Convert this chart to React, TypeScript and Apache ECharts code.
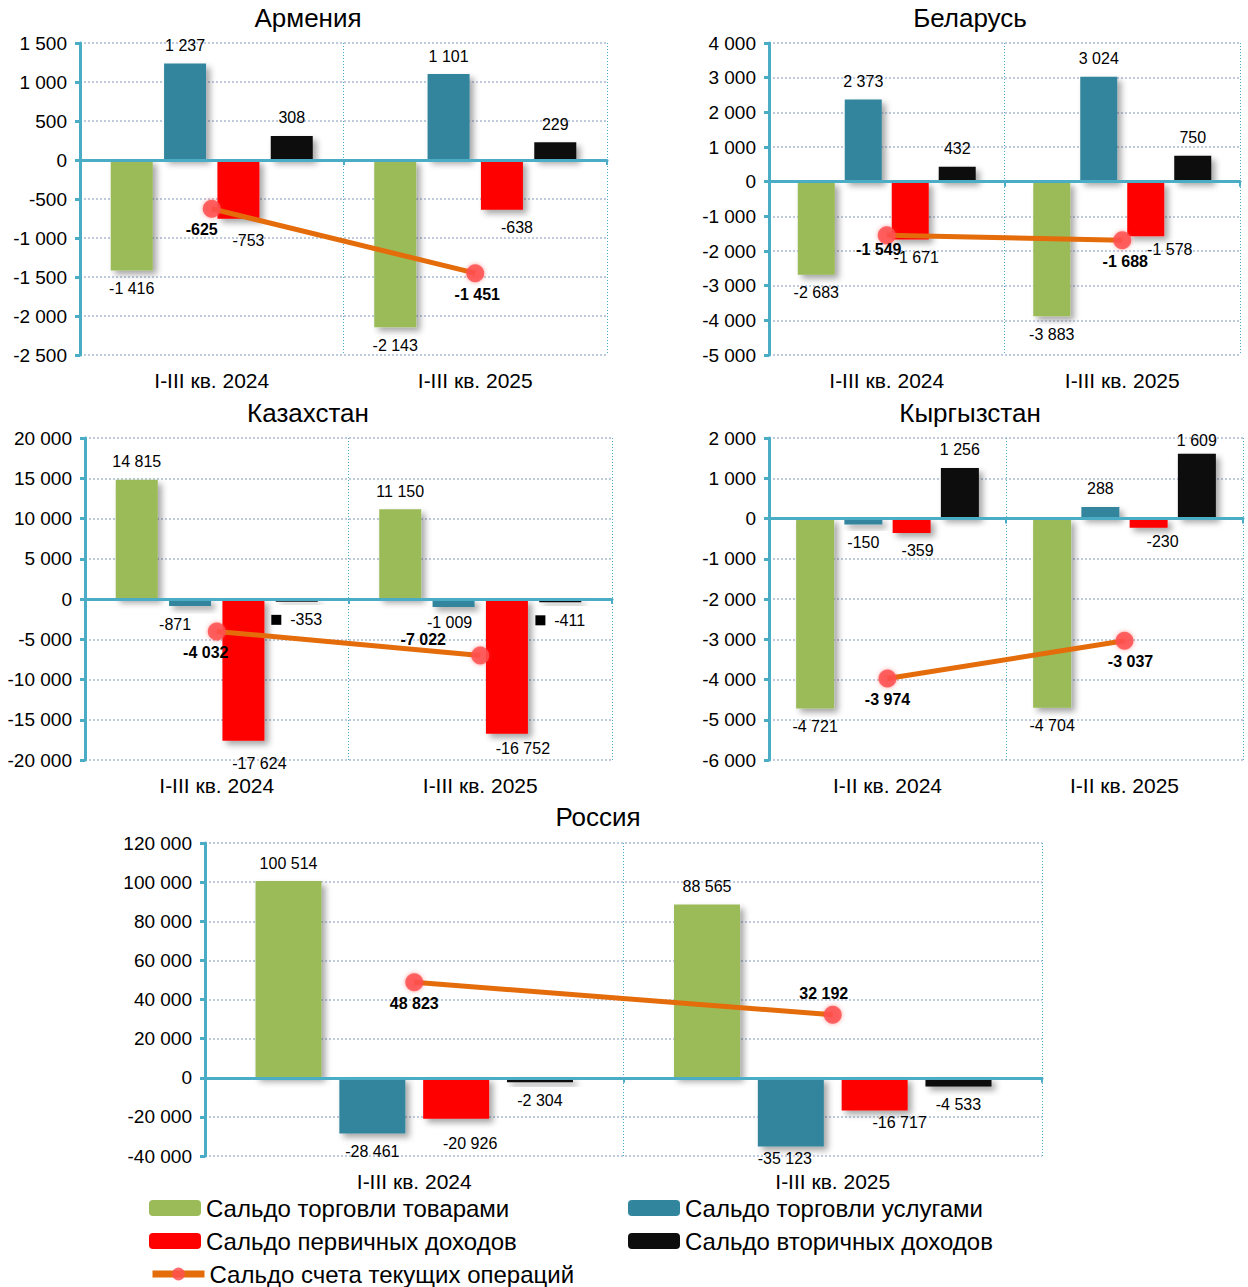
import React, { useEffect, useRef } from "react";
import * as echarts from "echarts";

// ---------- DATA ----------
const categoriesQ3 = ["I-III кв. 2024", "I-III кв. 2025"];
const categoriesQ2 = ["I-II кв. 2024", "I-II кв. 2025"];

const seriesNames = [
  "Сальдо торговли товарами",
  "Сальдо торговли услугами",
  "Сальдо первичных доходов",
  "Сальдо вторичных доходов",
  "Сальдо счета текущих операций",
];

const armeniaGoods = [-1416, -2143];
const armeniaServices = [1237, 1101];
const armeniaPrimary = [-753, -638];
const armeniaSecondary = [308, 229];
const armeniaCurrent = [-625, -1451];

const belarusGoods = [-2683, -3883];
const belarusServices = [2373, 3024];
const belarusPrimary = [-1671, -1578];
const belarusSecondary = [432, 750];
const belarusCurrent = [-1549, -1688];

const kazakhstanGoods = [14815, 11150];
const kazakhstanServices = [-871, -1009];
const kazakhstanPrimary = [-17624, -16752];
const kazakhstanSecondary = [-353, -411];
const kazakhstanCurrent = [-4032, -7022];

const kyrgyzstanGoods = [-4721, -4704];
const kyrgyzstanServices = [-150, 288];
const kyrgyzstanPrimary = [-359, -230];
const kyrgyzstanSecondary = [1256, 1609];
const kyrgyzstanCurrent = [-3974, -3037];

const russiaGoods = [100514, 88565];
const russiaServices = [-28461, -35123];
const russiaPrimary = [-20926, -16717];
const russiaSecondary = [-2304, -4533];
const russiaCurrent = [48823, 32192];

const armeniaAxis = { min: -2500, max: 1500, interval: 500 };
const belarusAxis = { min: -5000, max: 4000, interval: 1000 };
const kazakhstanAxis = { min: -20000, max: 20000, interval: 5000 };
const kyrgyzstanAxis = { min: -6000, max: 2000, interval: 1000 };
const russiaAxis = { min: -40000, max: 120000, interval: 20000 };

// ---------- STYLE / LAYOUT ----------
const COLORS = ["#9BBB59", "#31859C", "#FF0000", "#0D0D0D"];
const LINE_COLOR = "#E46C0A";
const SYMBOL_COLOR = "rgba(255,80,80,0.85)";
const AXIS_COLOR = "#4BACC6";
const FONT = "'Liberation Sans', Arial, sans-serif";

const countries = [
  {
    key: "am", title: "Армения", tx: 308, ty: 18,
    left: 80, top: 43, width: 527, height: 312, barWidth: 42,
    cats: categoriesQ3, axis: armeniaAxis,
    values: [armeniaGoods, armeniaServices, armeniaPrimary, armeniaSecondary, armeniaCurrent],
  },
  {
    key: "by", title: "Беларусь", tx: 970, ty: 18,
    left: 769, top: 43, width: 471, height: 312, barWidth: 37,
    cats: categoriesQ3, axis: belarusAxis,
    values: [belarusGoods, belarusServices, belarusPrimary, belarusSecondary, belarusCurrent],
  },
  {
    key: "kz", title: "Казахстан", tx: 308, ty: 413,
    left: 85, top: 438, width: 527, height: 322, barWidth: 42,
    cats: categoriesQ3, axis: kazakhstanAxis,
    values: [kazakhstanGoods, kazakhstanServices, kazakhstanPrimary, kazakhstanSecondary, kazakhstanCurrent],
  },
  {
    key: "kg", title: "Кыргызстан", tx: 970, ty: 413,
    left: 769, top: 438, width: 474, height: 322, barWidth: 38,
    cats: categoriesQ2, axis: kyrgyzstanAxis,
    values: [kyrgyzstanGoods, kyrgyzstanServices, kyrgyzstanPrimary, kyrgyzstanSecondary, kyrgyzstanCurrent],
  },
  {
    key: "ru", title: "Россия", tx: 598, ty: 817,
    left: 205, top: 843, width: 837, height: 313, barWidth: 66,
    cats: categoriesQ3, axis: russiaAxis,
    values: [russiaGoods, russiaServices, russiaPrimary, russiaSecondary, russiaCurrent],
  },
];

// label offsets [dx, dy] per country / series / point
const labelOffsets: Record<string, Record<number, number[][]>> = {
  am: { 2: [[10, 4], [15, 0]], 4: [[-10, 0], [2, 0]] },
  by: { 2: [[6, 0], [24, -5]], 4: [[-8, -7], [3, 0]] },
  kz: { 1: [[-15, 0], [-4, -3]], 2: [[16, 5], [16, -3]], 4: [[-11, 0], [-57, -37]] },
  kg: { 2: [[6, 0], [14, -4]], 3: [[0, 0], [0, 5]], 4: [[0, 0], [6, 0]] },
  ru: { 1: [[0, 0], [-6, -6]], 2: [[14, 7], [25, -6]], 4: [[0, 0], [-9, 0]] },
};
const linePositions: Record<string, string[]> = {
  ru: ["bottom", "top"],
};
const squareKeyLabels: Record<string, number> = { kz: 3 };

// legend item placement: [seriesIndex, left, top]
const legendPlacement = [
  [0, 149, 1196],
  [1, 628, 1196],
  [2, 149, 1229],
  [3, 628, 1229],
  [4, 149, 1262],
];

const fmt = (v: number) =>
  (v < 0 ? "-" : "") + String(Math.abs(v)).replace(/\B(?=(\d{3})+(?!\d))/g, " ");

function buildOption() {
  const grid: any[] = [];
  const xAxis: any[] = [];
  const yAxis: any[] = [];
  const series: any[] = [];
  const graphic: any[] = [];

  countries.forEach((c, i) => {
    grid.push({ left: c.left, top: c.top, width: c.width, height: c.height, containLabel: false, outerBoundsMode: "none" });
    graphic.push({
      type: "text", x: c.tx, y: c.ty, z: 10,
      style: { text: c.title, fontSize: 26, fontFamily: FONT, fill: "#000", align: "center", verticalAlign: "middle" },
    });
    // label axis at bottom
    xAxis.push({
      type: "category", gridIndex: i, data: c.cats, position: "bottom",
      axisLine: { show: false, onZero: false },
      axisTick: { show: false },
      axisLabel: { fontSize: 21, color: "#000", fontFamily: FONT, margin: 15 },
      splitLine: { show: true, lineStyle: { color: AXIS_COLOR, type: [1, 2], width: 1 } },
    });
    // zero line axis
    xAxis.push({
      type: "category", gridIndex: i, data: c.cats, position: "bottom", z: 4,
      axisLine: { show: true, onZero: true, lineStyle: { color: AXIS_COLOR, width: 3 } },
      axisTick: { show: true, length: 5, lineStyle: { color: AXIS_COLOR, width: 2 } },
      axisLabel: { show: false },
      splitLine: { show: false },
    });
    yAxis.push({
      type: "value", gridIndex: i, min: c.axis.min, max: c.axis.max, interval: c.axis.interval,
      axisLine: { show: true, lineStyle: { color: AXIS_COLOR, width: 3 } },
      axisTick: { show: true, length: 5, lineStyle: { color: AXIS_COLOR, width: 3 } },
      axisLabel: { formatter: (v: number) => fmt(v), fontSize: 19, color: "#000", fontFamily: FONT, margin: 13 },
      splitLine: { show: true, lineStyle: { color: "#ABBBD2", type: [2, 2], width: 1.5 } },
    });

    const offs = labelOffsets[c.key] || {};
    for (let s = 0; s < 4; s++) {
      const isSq = squareKeyLabels[c.key] === s;
      series.push({
        type: "bar", name: seriesNames[s], xAxisIndex: i * 2, yAxisIndex: i,
        barWidth: c.barWidth, barGap: "27%",
        itemStyle: {
          color: COLORS[s], shadowColor: "rgba(0,0,0,0.35)", shadowBlur: 6, shadowOffsetX: 4, shadowOffsetY: 4,
        },
        label: {
          show: true, fontSize: 16, color: "#000", fontFamily: FONT, distance: 10,
          formatter: isSq ? (p: any) => "{sq| }  " + fmt(p.value) : (p: any) => fmt(p.value),
          rich: isSq ? { sq: { width: 10, height: 10, backgroundColor: "#000", fontSize: 9 } } : undefined,
        },
        data: c.values[s].map((v, j) => ({
          value: v,
          label: { position: v < 0 ? "bottom" : "top", offset: offs[s] ? offs[s][j] : [0, 0] },
        })),
      });
    }
    const lp = linePositions[c.key];
    series.push({
      type: "line", name: seriesNames[4], xAxisIndex: i * 2, yAxisIndex: i, z: 6,
      symbol: "circle", symbolSize: 18,
      lineStyle: { color: LINE_COLOR, width: 5 },
      itemStyle: { color: SYMBOL_COLOR, shadowColor: "rgba(255,60,60,0.6)", shadowBlur: 4 },
      label: { show: true, fontSize: 16, fontWeight: "bold", color: "#000", fontFamily: FONT, distance: 4 },
      data: c.values[4].map((v, j) => ({
        value: v,
        label: { position: lp ? lp[j] : "bottom", offset: offs[4] ? offs[4][j] : [0, 0], formatter: () => fmt(v) },
      })),
    });
  });

  const legendText = { fontSize: 24, color: "#000", fontFamily: FONT, lineHeight: 24 };
  const legend = legendPlacement.map(([s, l, t]) => ({
    left: l, top: t, padding: 0, orient: "horizontal", itemWidth: 52, itemHeight: 16,
    data: [
      s === 4
        ? { name: seriesNames[s], itemStyle: { color: SYMBOL_COLOR }, lineStyle: { color: LINE_COLOR, width: 7 } }
        : seriesNames[s],
    ],
    textStyle: legendText, selectedMode: false,
  }));

  return { animation: false, backgroundColor: "#fff", grid, xAxis, yAxis, series, legend, graphic };
}

export default function App() {
  const ref = useRef<HTMLDivElement>(null);
  useEffect(() => {
    if (!ref.current) return;
    const chart = echarts.init(ref.current, undefined, { renderer: "svg" });
    chart.setOption(buildOption() as any);
    return () => chart.dispose();
  }, []);
  return (
    <div
      ref={ref}
      style={{ position: "absolute", left: 0, top: 0, width: 1248, height: 1287, background: "#fff" }}
    />
  );
}
